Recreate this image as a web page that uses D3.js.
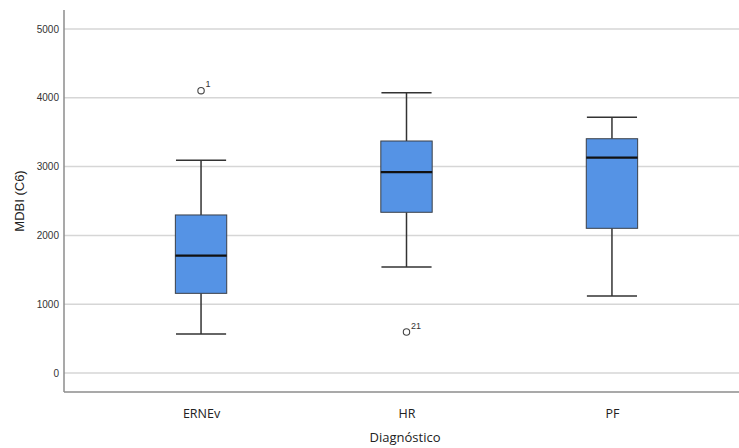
<!DOCTYPE html>
<html><head><meta charset="utf-8">
<script src="https://cdn.jsdelivr.net/npm/d3@7"></script>
<style>body{margin:0;background:#fff}svg{display:block}</style>
</head><body>
<script>
const categories = ["ERNEv", "HR", "PF"];
const whiskerLow = [567, 1541, 1119];
const q1 = [1158, 2336, 2103];
const median = [1705, 2921, 3129];
const q3 = [2297, 3372, 3405];
const whiskerHigh = [3092, 4074, 3716];
const outliers = [{cat: "ERNEv", value: 4103, label: "1"}, {cat: "HR", value: 596, label: "21"}];
const yTicks = [0, 1000, 2000, 3000, 4000, 5000];

(function () {
const W = 739, H = 448;
const svg = d3.select("body").append("svg").attr("width", W).attr("height", H);

const mLeft = 64, mTop = 10, mBottom = 392, rightEnd = 749;
const y = d3.scaleLinear().domain([-276, 5276]).range([mBottom, mTop]);
const x = d3.scalePoint().domain(categories).range([mLeft, rightEnd]).padding(0.667);
const bw = x.step() * 0.25, cw = x.step() * 0.122;

// gridlines
svg.append("g").selectAll("line").data(yTicks).join("line")
  .attr("x1", mLeft).attr("x2", W).attr("y1", d => y(d)).attr("y2", d => y(d))
  .attr("stroke", "#d6d6d6").attr("stroke-width", 1.5);

// y axis
const yAxis = svg.append("g").attr("transform", `translate(${mLeft},0)`)
  .call(d3.axisLeft(y).tickValues(yTicks).tickSize(0).tickPadding(5).tickFormat(d3.format("d")));
yAxis.select(".domain").remove();
yAxis.selectAll("text").attr("font-family", "Liberation Sans, Arial, sans-serif").attr("font-size", 10).attr("fill", "#333");
svg.append("line").attr("x1", mLeft).attr("x2", mLeft).attr("y1", mTop).attr("y2", mBottom)
  .attr("stroke", "#8c8c8c").attr("stroke-width", 1.5);

// x axis
const xAxis = svg.append("g").attr("transform", `translate(0,${mBottom})`)
  .call(d3.axisBottom(x).tickSize(0).tickPadding(17));
xAxis.select(".domain").remove();
xAxis.selectAll("text").attr("font-family", "Open Sans, Liberation Sans, sans-serif").attr("font-size", 12.5).attr("fill", "#222");
svg.append("line").attr("x1", mLeft).attr("x2", W).attr("y1", mBottom).attr("y2", mBottom)
  .attr("stroke", "#8c8c8c").attr("stroke-width", 1.5);

// boxes
const g = svg.append("g");
categories.forEach((c, i) => {
  const cx = x(c);
  g.append("line").attr("x1", cx).attr("x2", cx).attr("y1", y(whiskerHigh[i])).attr("y2", y(q3[i]))
    .attr("stroke", "#333").attr("stroke-width", 1.5);
  g.append("line").attr("x1", cx).attr("x2", cx).attr("y1", y(q1[i])).attr("y2", y(whiskerLow[i]))
    .attr("stroke", "#333").attr("stroke-width", 1.5);
  [whiskerHigh[i], whiskerLow[i]].forEach(v => {
    g.append("line").attr("x1", cx - cw).attr("x2", cx + cw).attr("y1", y(v)).attr("y2", y(v))
      .attr("stroke", "#333").attr("stroke-width", 1.5);
  });
  g.append("rect").attr("x", cx - bw / 2).attr("width", bw)
    .attr("y", y(q3[i])).attr("height", y(q1[i]) - y(q3[i]))
    .attr("fill", "#5593e5").attr("stroke", "#3a3f47").attr("stroke-width", 1);
  g.append("line").attr("x1", cx - bw / 2).attr("x2", cx + bw / 2).attr("y1", y(median[i])).attr("y2", y(median[i]))
    .attr("stroke", "#111").attr("stroke-width", 2.2);
});

// outliers
outliers.forEach(o => {
  const cx = x(o.cat), cy = y(o.value);
  g.append("circle").attr("cx", cx).attr("cy", cy).attr("r", 3.2)
    .attr("fill", "#fff").attr("stroke", "#444").attr("stroke-width", 1.1);
  g.append("text").attr("x", cx + 4.5).attr("y", cy - 3.5).text(o.label)
    .attr("font-family", "Liberation Sans, Arial, sans-serif").attr("font-size", 9).attr("fill", "#333");
});

// axis titles
svg.append("text").attr("x", 405).attr("y", 442).attr("text-anchor", "middle")
  .attr("font-family", "Open Sans, Liberation Sans, sans-serif").attr("font-size", 13).attr("fill", "#222")
  .text("Diagnóstico");
svg.append("text").attr("transform", `translate(24,${(mTop + mBottom) / 2}) rotate(-90)`).attr("text-anchor", "middle")
  .attr("font-family", "Liberation Sans, Arial, sans-serif").attr("font-size", 13).attr("fill", "#222")
  .text("MDBI (C6)");
})();
</script>
</body></html>
